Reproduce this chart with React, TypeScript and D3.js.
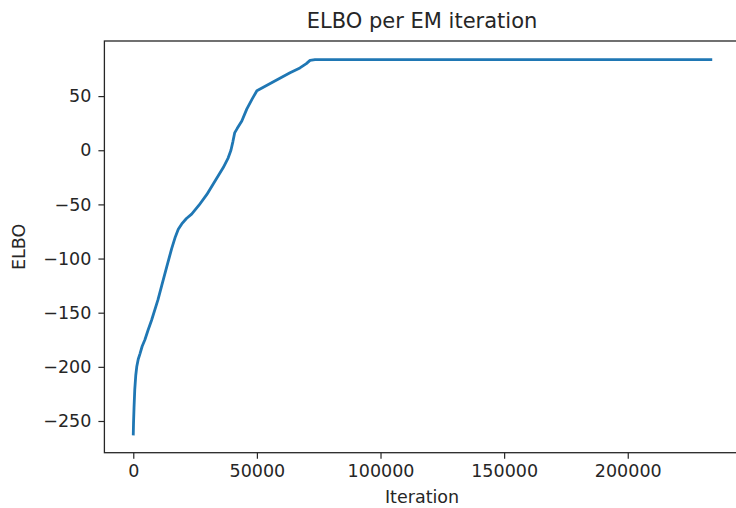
import React, { useEffect, useRef } from 'react';
import * as d3 from 'd3';

// iteration number and ELBO
const iterations = [
  0, 100, 300, 600, 1000, 1400, 2000, 2700, 3600, 4700, 6000, 7400,
  10000, 11500, 13500, 15500, 17000, 18200, 19600, 21500, 23600, 26500,
  29700, 32400, 36400, 38400, 39500, 40300, 41000, 42000, 43900, 45900,
  48000, 50000, 56500, 63400, 67400, 70000, 71500, 73500, 80000, 120000,
  180000, 233600,
];
const elbo = [
  -262, -252, -238, -221, -208, -200, -193, -188, -181, -175, -166, -157,
  -138, -125, -108, -91, -80, -73, -68, -63, -59, -51,
  -41, -31, -16, -7, 0, 8, 16, 20, 27, 38,
  47, 55, 63, 71.5, 76, 80, 83, 83.6, 83.6, 83.6,
  83.6, 83.6,
];
const xTicks = [0, 50000, 100000, 150000, 200000];
const yTicks = [-250, -200, -150, -100, -50, 0, 50];

const title = 'ELBO per EM iteration';
const xLabel = 'Iteration';
const yLabel = 'ELBO';

export default function App() {
  const ref = useRef<SVGSVGElement>(null);

  useEffect(() => {
    const width = 736, height = 508;
    const margin = { top: 41, left: 104.4 };
    const w = 635.3, h = 411.7;
    const font = 'DejaVu Sans, sans-serif';
    const ink = '#262626';

    const svg = d3.select(ref.current);
    svg.selectAll('*').remove();
    svg.attr('width', width).attr('height', height);

    // matplotlib style 5% padding around the data
    const xExt = d3.extent(iterations) as [number, number];
    const yExt = d3.extent(elbo) as [number, number];
    const xPad = (xExt[1] - xExt[0]) * 0.05;
    const yPad = (yExt[1] - yExt[0]) * 0.05;

    const x = d3.scaleLinear().domain([xExt[0] - xPad, xExt[1] + xPad]).range([0, w]);
    const y = d3.scaleLinear().domain([yExt[0] - yPad, yExt[1] + yPad]).range([h, 0]);

    const g = svg.append('g').attr('transform', `translate(${margin.left}, ${margin.top})`);

    // Add X axis
    const xAxis = g.append('g')
      .attr('transform', `translate(0, ${h})`)
      .call(d3.axisBottom(x).tickValues(xTicks).tickFormat(d3.format('d')).tickSize(6).tickPadding(6));

    // Add Y axis
    const yAxis = g.append('g')
      .call(d3.axisLeft(y).tickValues(yTicks).tickFormat(d => String(d).replace('-', '\u2212')).tickSize(6).tickPadding(7));

    [xAxis, yAxis].forEach(a => {
      a.select('.domain').remove();
      a.selectAll('line').attr('stroke', ink).attr('stroke-width', 1.2);
      a.selectAll('text').attr('fill', ink).style('font-family', font).style('font-size', '17.5px');
    });

    // spines
    g.append('rect')
      .attr('x', 0).attr('y', 0).attr('width', w).attr('height', h)
      .attr('fill', 'none').attr('stroke', ink).attr('stroke-width', 1.3);

    const line = d3.line<number>()
      .x((d, i) => x(iterations[i]))
      .y(d => y(d));

    g.append('path')
      .datum(elbo)
      .attr('d', line)
      .attr('fill', 'none')
      .attr('stroke', '#1f77b4')
      .attr('stroke-width', 2.8)
      .attr('stroke-linejoin', 'round')
      .attr('stroke-linecap', 'square');

    // title and axis labels
    svg.append('text')
      .attr('x', margin.left + w / 2).attr('y', 28)
      .attr('text-anchor', 'middle')
      .attr('fill', ink).style('font-family', font).style('font-size', '21px')
      .text(title);

    svg.append('text')
      .attr('x', margin.left + w / 2).attr('y', 503)
      .attr('text-anchor', 'middle')
      .attr('fill', ink).style('font-family', font).style('font-size', '17.5px')
      .text(xLabel);

    svg.append('text')
      .attr('transform', `translate(25, ${margin.top + h / 2}) rotate(-90)`)
      .attr('text-anchor', 'middle')
      .attr('fill', ink).style('font-family', font).style('font-size', '17.5px')
      .text(yLabel);
  }, []);

  return (
    <svg ref={ref} style={{ position: 'absolute', left: 0, top: 0, background: '#fff' }} />
  );
}
